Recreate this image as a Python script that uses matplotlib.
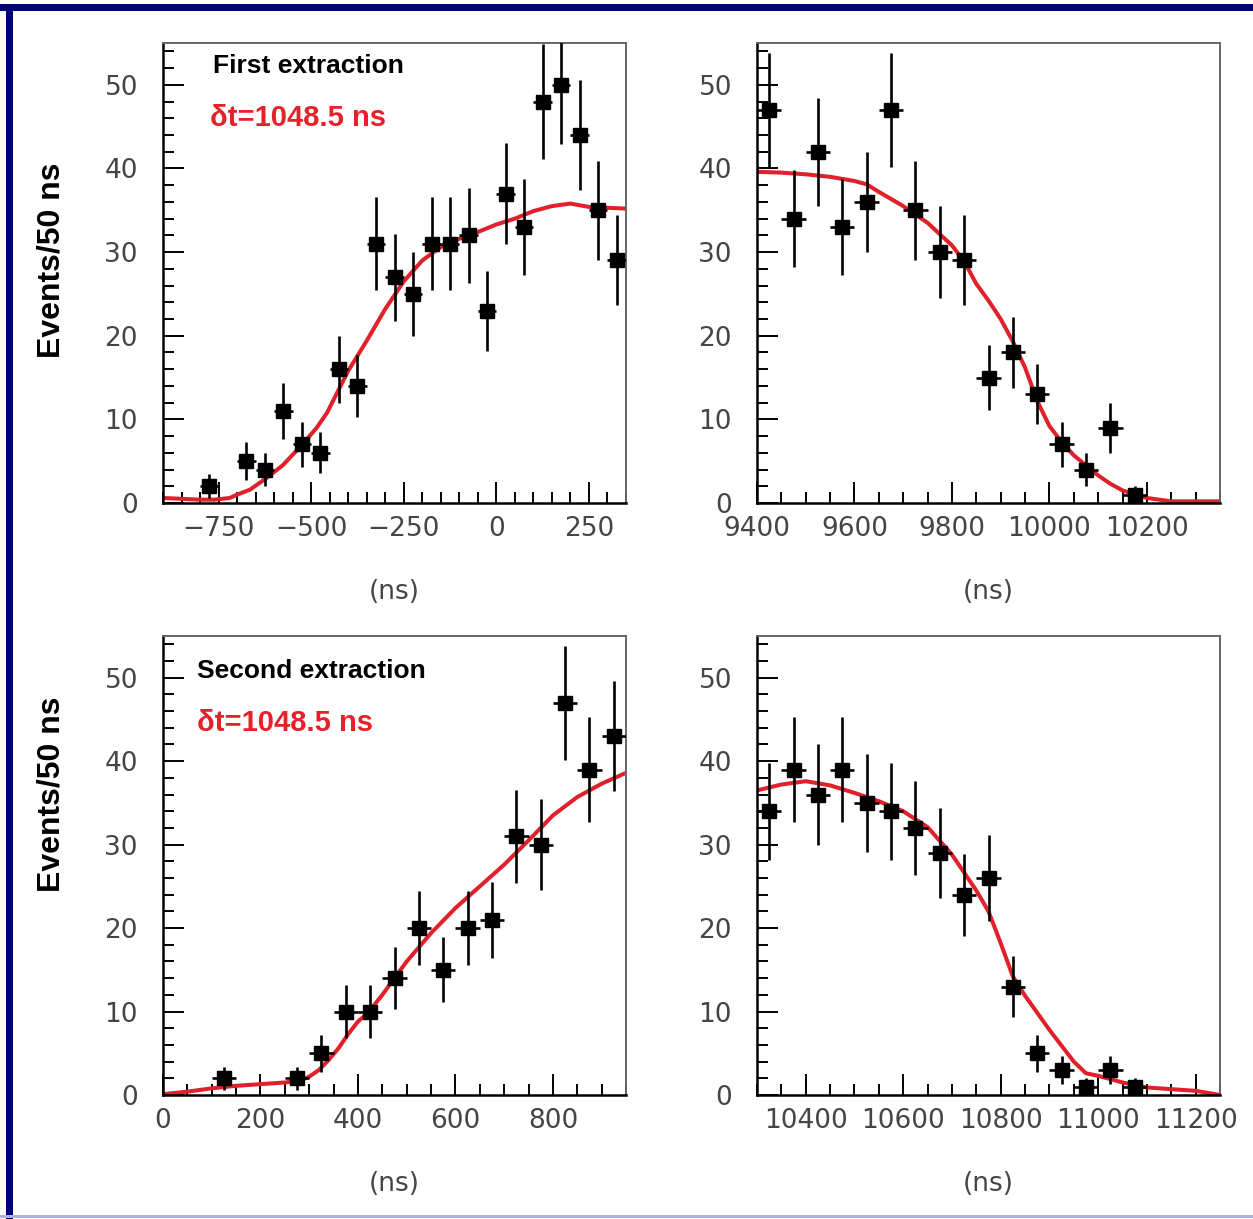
import numpy as np
import matplotlib
matplotlib.use("Agg")
import matplotlib.pyplot as plt
from matplotlib.patches import Rectangle
from matplotlib.ticker import MultipleLocator

W, H = 1253, 1219

# first extraction, leading edge (bin centres in ns, counts per 50 ns)
t_first_lead = [-775, -675, -625, -575, -525, -475, -425, -375, -325, -275, -225,
                -175, -125, -75, -25, 25, 75, 125, 175, 225, 275, 325]
n_first_lead = [2, 5, 4, 11, 7, 6, 16, 14, 31, 27, 25,
                31, 31, 32, 23, 37, 33, 48, 50, 44, 35, 29]
fit_first_lead_x = [-900, -850, -800, -760, -720, -700, -665, -620, -577, -530, -485,
                    -457, -400, -350, -300, -250, -200, -150, -100, -50, 0, 50,
                    100, 150, 200, 250, 300, 350]
fit_first_lead_y = [0.6, 0.5, 0.4, 0.4, 0.6, 1.0, 1.6, 3.0, 4.5, 6.7, 9.0,
                    10.8, 15.8, 19.4, 23.2, 26.5, 29.0, 30.6, 31.6, 32.4, 33.3, 34.0,
                    34.9, 35.5, 35.8, 35.4, 35.3, 35.2]

# first extraction, trailing edge
t_first_trail = [9425, 9475, 9525, 9575, 9625, 9675, 9725, 9775, 9825, 9875, 9925,
                 9975, 10025, 10075, 10125, 10175]
n_first_trail = [47, 34, 42, 33, 36, 47, 35, 30, 29, 15, 18, 13, 7, 4, 9, 1]
fit_first_trail_x = [9400, 9450, 9500, 9550, 9600, 9625, 9650, 9700, 9750, 9800, 9825,
                     9850, 9875, 9900, 9925, 9950, 9975, 10000, 10025, 10050, 10075,
                     10100, 10125, 10150, 10200, 10250, 10350]
fit_first_trail_y = [39.6, 39.5, 39.3, 39.0, 38.5, 38.1, 37.2, 35.5, 33.5, 30.8, 28.9,
                     26.2, 24.2, 22.0, 19.3, 16.2, 12.2, 9.2, 7.3, 5.7, 4.5,
                     3.3, 2.3, 1.5, 0.6, 0.2, 0.2]

# second extraction, leading edge
t_second_lead = [125, 275, 325, 375, 425, 475, 525, 575, 625, 675, 725, 775, 825, 875, 925]
n_second_lead = [2, 2, 5, 10, 10, 14, 20, 15, 20, 21, 31, 30, 47, 39, 43]
fit_second_lead_x = [0, 50, 100, 150, 200, 250, 280, 300, 320, 340, 360, 380, 400, 420,
                     450, 500, 550, 600, 650, 700, 750, 800, 850, 900, 950]
fit_second_lead_y = [0.1, 0.4, 0.8, 1.1, 1.3, 1.5, 1.7, 2.2, 3.0, 4.2, 5.6, 7.3, 8.8, 9.8,
                     12.0, 16.0, 19.4, 22.4, 25.0, 27.6, 30.5, 33.5, 35.7, 37.3, 38.6]

# second extraction, trailing edge
t_second_trail = [10325, 10375, 10425, 10475, 10525, 10575, 10625, 10675, 10725, 10775,
                  10825, 10875, 10925, 10975, 11025, 11075]
n_second_trail = [34, 39, 36, 39, 35, 34, 32, 29, 24, 26, 13, 5, 3, 1, 3, 1]
fit_second_trail_x = [10300, 10350, 10400, 10450, 10500, 10550, 10600, 10650, 10700,
                      10750, 10775, 10800, 10825, 10850, 10900, 10950, 10975, 11000,
                      11050, 11100, 11150, 11200, 11250]
fit_second_trail_y = [36.5, 37.2, 37.6, 37.1, 36.2, 35.2, 34.0, 32.1, 28.8,
                      24.5, 22.0, 18.2, 14.2, 11.9, 7.8, 4.0, 2.6, 2.3,
                      1.5, 0.9, 0.7, 0.5, 0.0]

TEXT_FONT = ["Liberation Sans", "DejaVu Sans"]
TICK_COLOR = "#454545"


def px_axes(fig, left, top, right, bottom):
    return fig.add_axes([left / W, 1 - bottom / H, (right - left) / W, (bottom - top) / H])


def draw_panel(ax, t, n, fx, fy, xlim, major):
    t = np.asarray(t, dtype=float)
    n = np.asarray(n, dtype=float)
    ax.plot(fx, fy, color="#e0202a", lw=2.9, zorder=2)
    ax.errorbar(t, n, yerr=np.sqrt(n), xerr=25, fmt="s", color="black",
                ms=10, elinewidth=1.9, capsize=0, zorder=3)
    ax.set_xlim(*xlim)
    ax.set_ylim(0, 55)
    ax.xaxis.set_major_locator(MultipleLocator(major))
    ax.xaxis.set_minor_locator(MultipleLocator(50))
    ax.yaxis.set_major_locator(MultipleLocator(10))
    ax.yaxis.set_minor_locator(MultipleLocator(2))
    ax.tick_params(which="both", direction="in", top=False, right=False,
                   color="black", width=1.4)
    ax.tick_params(which="major", length=15)
    ax.tick_params(which="minor", length=8)
    ax.tick_params(axis="y", which="major", pad=18, labelsize=19, labelcolor=TICK_COLOR)
    ax.tick_params(axis="x", which="major", pad=9, labelsize=19, labelcolor=TICK_COLOR)
    for side in ("left", "bottom"):
        ax.spines[side].set_color("black")
        ax.spines[side].set_linewidth(1.8)
    for side in ("top", "right"):
        ax.spines[side].set_color("#666666")
        ax.spines[side].set_linewidth(1.4)
    ax.set_xlabel("(ns)", fontsize=19, color=TICK_COLOR)
    ax.xaxis.set_label_coords(0.5, -0.193)
    ax.xaxis.label.set_va("center")


fig = plt.figure(figsize=(W / 100, H / 100), dpi=100)
fig.patch.set_facecolor("white")

# frame of the slide
fig.patches.append(Rectangle((0, 1 - 11 / H), 1, 7 / H, transform=fig.transFigure,
                             facecolor="#00007a", edgecolor="none", zorder=0))
fig.patches.append(Rectangle((6 / W, 0), 7 / W, 1 - 4 / H, transform=fig.transFigure,
                             facecolor="#00007a", edgecolor="none", zorder=0))
fig.patches.append(Rectangle((0, 1 / H), 1, 3 / H, transform=fig.transFigure,
                             facecolor="#a9b2e6", edgecolor="none", zorder=0))

ax1 = px_axes(fig, 163, 43, 626, 503)
ax2 = px_axes(fig, 757, 43, 1220, 503)
ax3 = px_axes(fig, 163, 636, 626, 1095)
ax4 = px_axes(fig, 757, 636, 1220, 1095)

draw_panel(ax1, t_first_lead, n_first_lead, fit_first_lead_x, fit_first_lead_y, (-900, 350), 250)
draw_panel(ax2, t_first_trail, n_first_trail, fit_first_trail_x, fit_first_trail_y, (9400, 10350), 200)
draw_panel(ax3, t_second_lead, n_second_lead, fit_second_lead_x, fit_second_lead_y, (0, 950), 200)
draw_panel(ax4, t_second_trail, n_second_trail, fit_second_trail_x, fit_second_trail_y, (10300, 11250), 200)

# y titles
fig.text(52 / W, 1 - 260 / H, "Events/50 ns", rotation=90, ha="center", va="center",
         fontsize=23, fontweight="bold", family=TEXT_FONT)
fig.text(52 / W, 1 - 794 / H, "Events/50 ns", rotation=90, ha="center", va="center",
         fontsize=23, fontweight="bold", family=TEXT_FONT)

# annotations
fig.text(213 / W, 1 - 66 / H, "First extraction", ha="left", va="center",
         fontsize=19, fontweight="bold", family=TEXT_FONT)
fig.text(210 / W, 1 - 118 / H, "\u03b4t=1048.5 ns", ha="left", va="center",
         fontsize=21, fontweight="bold", color="#e8202a", family=TEXT_FONT)
fig.text(197 / W, 1 - 671 / H, "Second extraction", ha="left", va="center",
         fontsize=19, fontweight="bold", family=TEXT_FONT)
fig.text(197 / W, 1 - 723 / H, "\u03b4t=1048.5 ns", ha="left", va="center",
         fontsize=21, fontweight="bold", color="#e8202a", family=TEXT_FONT)

fig.savefig("out.png", dpi=100, facecolor=fig.get_facecolor())
